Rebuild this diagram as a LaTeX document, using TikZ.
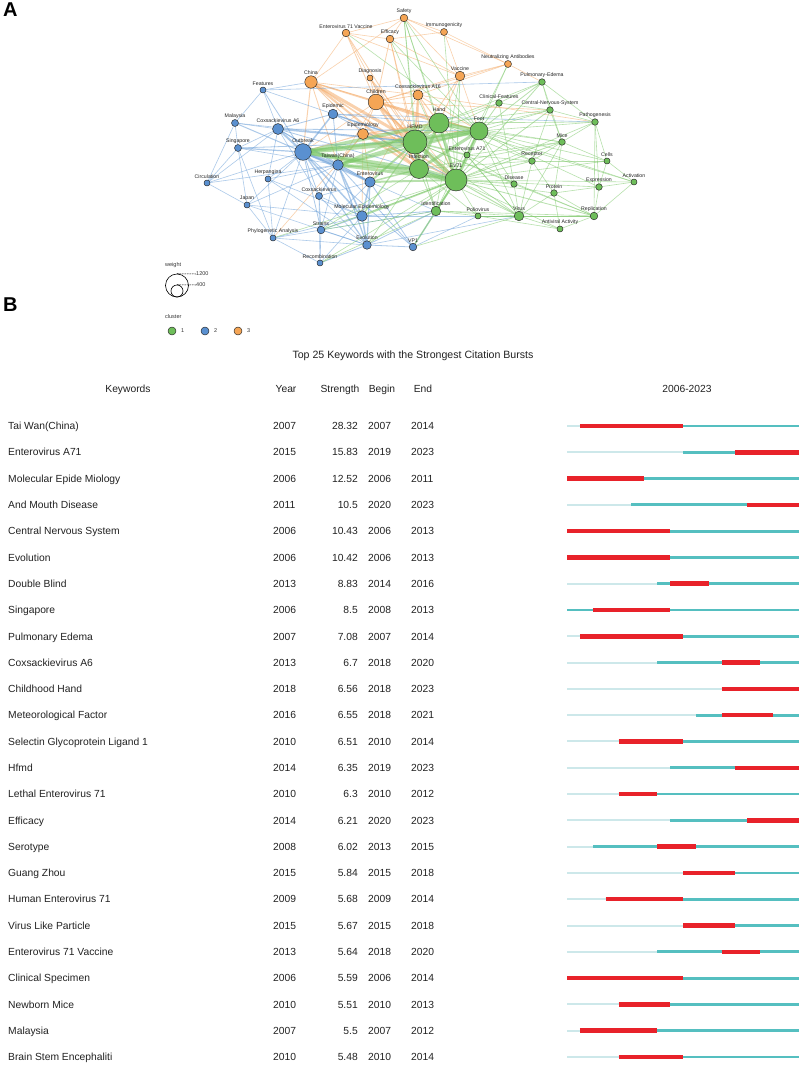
\documentclass[tikz,border=0pt]{standalone}
\usepackage{fontspec}
\setmainfont{Liberation Sans}
\pgfdeclarelayer{bottom}
\pgfdeclarelayer{background}
\pgfsetlayers{bottom,background,main}
\definecolor{cG}{HTML}{6EBE5A}
\definecolor{cB}{HTML}{5A90D0}
\definecolor{cO}{HTML}{F5A555}
\definecolor{eG}{HTML}{7CC868}
\definecolor{eB}{HTML}{6A9FD8}
\definecolor{eO}{HTML}{F5AC6A}
\definecolor{bRed}{HTML}{E8222A}
\definecolor{bTeal}{HTML}{55BFC0}
\definecolor{bLight}{HTML}{CDE8EA}
\definecolor{txt}{HTML}{222222}
\tikzset{
  nn/.style={circle, draw=black!85, line width=0.45pt, inner sep=0pt},
  nl/.style={font=\fontsize{5.2}{6}\selectfont, text=black!85, inner sep=0.6pt},
  ge/.style={draw=eG, opacity=0.55, line cap=round},
  be/.style={draw=eB, opacity=0.55, line cap=round},
  oe/.style={draw=eO, opacity=0.55, line cap=round},
  panel/.style={font=\fontsize{20}{22}\selectfont\bfseries, text=black, inner sep=0pt, anchor=north west},
  rowt/.style={font=\fontsize{10.3}{12}\selectfont, text=txt, inner sep=0pt, text height=7.4pt, text depth=0pt},
  lgt/.style={font=\fontsize{5.5}{6.5}\selectfont, text=black!80, inner sep=0pt, anchor=west},
  lightbar/.style={draw=bLight, line width=2pt},
  tealbar/.style={draw=bTeal, line width=2.8pt},
  redbar/.style={draw=bRed, line width=4.5pt},
}
\newcommand\nn[6]{\node[nn, fill=#5, minimum size=#4*2pt, label={[nl]above:#6}] (#1) at (#2,#3) {};}
\begin{document}
\begin{tikzpicture}[x=1pt,y=-1pt]
\useasboundingbox (0,0) rectangle (800,1071);
\begin{pgfonlayer}{bottom}
\fill[white] (0,0) rectangle (800,1071);
\end{pgfonlayer}

\node[panel] (pA) at (3,3) {A};
\node[panel] (pB) at (3,298) {B};

% ---------- network nodes ----------
% cluster 3 (orange)
\nn{saf}{404}{18}{3.8}{cO}{Safety}
\nn{ev71v}{346}{33}{3.8}{cO}{Enterovirus 71 Vaccine}
\nn{eff}{390}{39}{3.8}{cO}{Efficacy}
\nn{imm}{444}{32}{3.5}{cO}{Immunogenicity}
\nn{nab}{508}{64}{3.5}{cO}{Neutralizing Antibodies}
\nn{vac}{460}{76}{4.8}{cO}{Vaccine}
\nn{dia}{370}{78}{3}{cO}{Diagnosis}
\nn{chi}{311}{82}{6.2}{cO}{China}
\nn{chd}{376}{102}{7.8}{cO}{Children}
\nn{ca16}{418}{95}{5}{cO}{Coxsackievirus A16}
\nn{epi}{363}{134}{5.5}{cO}{Epidemiology}
% cluster 2 (blue)
\nn{feat}{263}{90}{3}{cB}{Features}
\nn{mal}{235}{123}{3.5}{cB}{Malaysia}
\nn{ca6}{278}{129}{5.5}{cB}{Coxsackievirus A6}
\nn{epid}{333}{114}{4.8}{cB}{Epidemic}
\nn{sing}{238}{148}{3.5}{cB}{Singapore}
\nn{out}{303}{152}{8.3}{cB}{Outbreak}
\nn{tw}{338}{165}{5.3}{cB}{Taiwan(China)}
\nn{herp}{268}{179}{3}{cB}{Herpangina}
\nn{circ}{207}{183}{3}{cB}{Circulation}
\nn{ent}{370}{182}{5.2}{cB}{Enterovirus}
\nn{cox}{319}{196}{3.5}{cB}{Coxsackievirus}
\nn{japan}{247}{205}{3}{cB}{Japan}
\nn{mol}{362}{216}{5.3}{cB}{Molecular Epidemiology}
\nn{str}{321}{230}{3.8}{cB}{Strains}
\nn{phy}{273}{238}{3}{cB}{Phylogenetic Analysis}
\nn{evo}{367}{245}{4.3}{cB}{Evolution}
\nn{vp1}{413}{247}{3.8}{cB}{VP1}
\nn{rcb}{320}{263}{3}{cB}{Recombination}
% cluster 1 (green)
\nn{hfmd}{415}{142}{12}{cG}{HFMD}
\nn{hand}{439}{123}{10}{cG}{Hand}
\nn{foot}{479}{131}{9}{cG}{Foot}
\nn{inf}{419}{169}{9.5}{cG}{Infection}
\nn{ev71}{456}{180}{11}{cG}{EV71}
\nn{ea71}{467}{155}{3}{cG}{Enterovirus A71}
\nn{cf}{499}{103}{3.3}{cG}{Clinical-Features}
\nn{pe}{542}{82}{3.3}{cG}{Pulmonary-Edema}
\nn{cns}{550}{110}{3.3}{cG}{Central-Nervous-System}
\nn{path}{595}{122}{3.3}{cG}{Pathogenesis}
\nn{mice}{562}{142}{3.3}{cG}{Mice}
\nn{rec}{532}{161}{3.3}{cG}{Receptor}
\nn{cells}{607}{161}{3}{cG}{Cells}
\nn{dis}{514}{184}{3.2}{cG}{Disease}
\nn{prot}{554}{193}{3.3}{cG}{Protein}
\nn{exp}{599}{187}{3.3}{cG}{Expression}
\nn{act}{634}{182}{3}{cG}{Activation}
\nn{iden}{436}{211}{4.8}{cG}{Identification}
\nn{polio}{478}{216}{3}{cG}{Poliovirus}
\nn{virus}{519}{216}{4.8}{cG}{Virus}
\nn{rep}{594}{216}{3.8}{cG}{Replication}
\nn{av}{560}{229}{3}{cG}{Antiviral Activity}

% ---------- network edges ----------
\begin{pgfonlayer}{background}
\foreach \a/\b/\w in {
 chi/hfmd/3, chd/hfmd/3, chd/hand/2, chd/inf/2, chd/ev71/1.5, chi/inf/2, chi/ev71/1.5,
 epi/hfmd/2.5, epi/hand/1.5, epi/ev71/1.5, epi/inf/2, epi/out/1, chi/out/1, chd/out/0.6,
 chi/chd/1.5, chi/epi/0.8, chi/ca16/0.6, chd/ca16/0.8, ca16/hfmd/2, ca16/ev71/1, ca16/hand/1,
 vac/hfmd/0.8, vac/chd/0.6, vac/ev71v/0.6, vac/eff/0.6, vac/imm/0.6, vac/nab/0.6, vac/saf/0.6,
 eff/saf/0.6, eff/ev71v/0.6, eff/imm/0.6, eff/chd/0.8, eff/hfmd/0.8, ev71v/saf/0.6, ev71v/chi/0.6,
 ev71v/chd/0.8, ev71v/hfmd/0.8, saf/imm/0.6, saf/nab/0.6, saf/chi/0.6, imm/nab/0.6, nab/ca16/0.6,
 nab/pe/0.6, nab/chd/0.6, dia/hfmd/0.8, dia/chd/0.6, dia/ev71/0.6, chi/tw/0.8, epi/tw/1,
 epi/ent/0.8, epi/mol/0.6, chd/epi/0.8, ca16/ent/0.6, ca16/path/0.6, chd/foot/1.5, chi/foot/0.8,
 epi/foot/0.8, phy/epi/0.6, dia/inf/0.6, ev71v/inf/0.6, eff/inf/0.6, vac/foot/0.6, vac/hand/0.8,
 ca16/foot/0.8, ca16/inf/0.8, chd/tw/0.6, chd/cns/0.6}
  \draw[oe, line width=\w pt] (\a) -- (\b);
\foreach \a/\b/\w in {
 out/tw/3, out/ent/2, out/ca6/2, out/epid/1.5, out/sing/1.2, out/mal/1, out/feat/0.8,
 out/circ/0.6, out/herp/0.6, out/cox/0.8, out/japan/0.6, out/mol/1.5, out/str/0.8, out/phy/0.6,
 out/evo/1.2, out/vp1/0.8, tw/ent/2, tw/ca6/1, tw/epid/0.8, tw/mol/1.5, tw/evo/1.2, tw/cox/0.8,
 tw/str/0.6, tw/vp1/0.8, ent/mol/1.5, ent/evo/1.2, ent/str/0.6, ent/cox/0.6, ent/vp1/0.8,
 mol/evo/1.5, mol/str/0.8, mol/phy/0.6, mol/rcb/0.6, evo/rcb/0.8, evo/str/0.8, evo/phy/0.6,
 evo/vp1/0.8, str/phy/0.6, str/rcb/0.6, phy/rcb/0.6, phy/japan/0.6, phy/herp/0.6, sing/mal/0.6,
 sing/ca6/0.6, sing/circ/0.6, sing/japan/0.6, sing/phy/0.6, mal/feat/0.6, mal/ca6/0.6, mal/circ/0.6,
 feat/ca6/0.6, feat/hfmd/0.6, feat/pe/0.6, circ/japan/0.6, circ/ca6/0.6, herp/tw/0.6, herp/ca6/0.6,
 herp/evo/0.6, ca6/epid/0.8, ca6/hfmd/1.5, ca6/cox/0.6, epid/hfmd/1.5, epid/hand/0.8, epid/ev71/0.8,
 cox/mol/0.6, cox/evo/0.6, cox/str/0.6, cox/rcb/0.6, japan/evo/0.6, japan/mol/0.6, evo/iden/0.8,
 vp1/iden/0.8, mol/iden/0.8, str/iden/0.6, ent/iden/0.6, vp1/polio/0.6, evo/virus/0.6, mol/virus/0.6,
 epid/path/0.6, sing/hfmd/0.8, mal/hfmd/0.6, ca6/foot/0.8, feat/chi/0.6, herp/mol/0.6, ent/ca6/0.6,
 sing/tw/0.6, ca6/ev71/0.8, circ/tw/0.6, japan/tw/0.6}
  \draw[be, line width=\w pt] (\a) -- (\b);
\foreach \a/\b/\w in {
 hfmd/hand/5, hfmd/foot/5, hand/foot/4, hfmd/inf/4.5, hfmd/ev71/4, inf/ev71/4, hand/ev71/3,
 foot/ev71/3.5, hand/inf/3, foot/inf/3, out/hfmd/4.5, out/hand/3.5, out/foot/3, out/ev71/3.5,
 out/inf/3.5, tw/hfmd/3, tw/inf/2.5, tw/ev71/3, tw/hand/2, tw/foot/2, ent/hfmd/2, ent/ev71/2,
 ent/inf/1.5, mol/ev71/1.5, mol/hfmd/1.2, ev71/iden/2, ev71/vp1/1.5, hfmd/ea71/1.5, foot/ea71/1,
 ev71/ea71/1,
 iden/inf/0.8, hfmd/cf/0.6, hand/cf/0.6, foot/cf/0.8, foot/pe/0.8, hand/pe/0.6, ev71/pe/0.8,
 ev71/cns/0.8, hfmd/cns/0.6, foot/path/0.6, ev71/path/0.6, ev71/mice/0.8, ev71/rec/0.8,
 ev71/cells/0.6, ev71/dis/0.6, ev71/prot/0.6, ev71/exp/0.6, ev71/act/0.6, ev71/rep/0.8,
 ev71/virus/1, ev71/av/0.6, ev71/polio/0.6, inf/virus/0.6, inf/rec/0.6, inf/mice/0.6,
 ea71/virus/0.6, ea71/rec/0.6, virus/rep/0.6, virus/prot/0.6, virus/av/0.6, virus/mice/0.6,
 virus/rec/0.6, virus/polio/0.6, rec/mice/0.6, rec/cells/0.6, exp/act/0.6, exp/cells/0.6,
 exp/rep/0.6, prot/exp/0.6, prot/rep/0.6, prot/rec/0.6, act/rep/0.6, act/cells/0.6, path/mice/0.6,
 path/cns/0.6, path/cells/0.6, path/exp/0.6, path/rep/0.6, mice/prot/0.6, mice/cns/0.6, cns/pe/0.6,
 pe/cf/0.6, pe/mice/0.6, cf/cns/0.6, dis/virus/0.6, dis/rep/0.6, polio/iden/0.6, iden/virus/0.6,
 iden/rep/0.6, polio/rep/0.6, av/rep/0.6, av/polio/0.6, saf/hfmd/0.6, saf/ev71/0.6, saf/foot/0.6,
 saf/hand/0.6, saf/inf/0.6, imm/ev71/0.6, vac/ev71/0.8, vac/iden/0.6, nab/ev71/0.6, nab/iden/0.6,
 ev71v/foot/0.6, eff/ev71/0.6, eff/foot/0.6, hand/act/0.6, foot/exp/0.6, foot/cells/0.6,
 hfmd/dis/0.6, foot/dis/0.6, hand/mice/0.6, hand/path/0.6, foot/rec/0.6, ev71/str/0.8,
 ev71/rcb/0.6, ev71/phy/0.6, inf/str/0.6, iden/rcb/0.6, hfmd/virus/0.6, hand/virus/0.6,
 foot/virus/0.6, inf/polio/0.6, hfmd/rep/0.6, cf/dis/0.6, pe/path/0.6, cns/rec/0.6, mice/cells/0.6,
 av/prot/0.6, hfmd/iden/0.8, vp1/virus/0.6, ev71/evo/0.8, inf/evo/0.6, iden/str/0.6, ea71/mice/0.6,
 ea71/dis/0.6, foot/mice/0.6, hand/cns/0.6, foot/cns/0.6, hand/rec/0.6, foot/act/0.6}
  \draw[ge, line width=\w pt] (\a) -- (\b);
\end{pgfonlayer}

% ---------- legend ----------
\node[lgt] (lw) at (165,265) {weight};
\node[circle, draw=black, line width=0.6pt, minimum size=23pt, inner sep=0pt] (lbig) at (177,285.5) {};
\node[circle, draw=black, line width=0.6pt, minimum size=12pt, inner sep=0pt] (lsmall) at (177,291) {};
\node[lgt] (l1200) at (196,274) {1200};
\node[lgt] (l400) at (196,285) {400};
\draw[dashed, line width=0.5pt, dash pattern=on 1.5pt off 1pt] (lbig.north) -- (l1200.west);
\draw[dashed, line width=0.5pt, dash pattern=on 1.5pt off 1pt] (lsmall.north) -- (l400.west);
\node[lgt] (lc) at (165,317) {cluster};
\node[nn, fill=cG, minimum size=8pt] (lg1) at (172,331) {};
\node[lgt] (lt1) at (181,331) {1};
\node[nn, fill=cB, minimum size=8pt] (lg2) at (205,331) {};
\node[lgt] (lt2) at (214,331) {2};
\node[nn, fill=cO, minimum size=8pt] (lg3) at (238,331) {};
\node[lgt] (lt3) at (247,331) {3};

% ---------- panel B ----------
\node[rowt, font=\fontsize{10.6}{12}\selectfont] (title) at (413,355) {Top 25 Keywords with the Strongest Citation Bursts};
\node[rowt] (hk) at (128,389) {Keywords};
\node[rowt] (hy) at (286,389) {Year};
\node[rowt] (hs) at (340,389) {Strength};
\node[rowt] (hb) at (382,389) {Begin};
\node[rowt] (he) at (423,389) {End};
\node[rowt] (hr) at (687,389) {2006-2023};

\foreach [count=\i from 0] \kw/\yr/\st/\bg/\en in {
 Tai Wan(China)/2007/28.32/2007/2014,
 Enterovirus A71/2015/15.83/2019/2023,
 Molecular Epide Miology/2006/12.52/2006/2011,
 And Mouth Disease/2011/10.5/2020/2023,
 Central Nervous System/2006/10.43/2006/2013,
 Evolution/2006/10.42/2006/2013,
 Double Blind/2013/8.83/2014/2016,
 Singapore/2006/8.5/2008/2013,
 Pulmonary Edema/2007/7.08/2007/2014,
 Coxsackievirus A6/2013/6.7/2018/2020,
 Childhood Hand/2018/6.56/2018/2023,
 Meteorological Factor/2016/6.55/2018/2021,
 Selectin Glycoprotein Ligand 1/2010/6.51/2010/2014,
 Hfmd/2014/6.35/2019/2023,
 Lethal Enterovirus 71/2010/6.3/2010/2012,
 Efficacy/2014/6.21/2020/2023,
 Serotype/2008/6.02/2013/2015,
 Guang Zhou/2015/5.84/2015/2018,
 Human Enterovirus 71/2009/5.68/2009/2014,
 Virus Like Particle/2015/5.67/2015/2018,
 Enterovirus 71 Vaccine/2013/5.64/2018/2020,
 Clinical Specimen/2006/5.59/2006/2014,
 Newborn Mice/2010/5.51/2010/2013,
 Malaysia/2007/5.5/2007/2012,
 Brain Stem Encephaliti/2010/5.48/2010/2014}
{
  \pgfmathsetmacro\yy{426+\i*26.29}
  \pgfmathsetmacro\xa{567+(\yr-2006)*12.889}
  \pgfmathsetmacro\xb{567+(\bg-2006)*12.889}
  \pgfmathsetmacro\xc{567+(\en-2005)*12.889}
  \node[rowt, anchor=west] (k\i) at (8,\yy) {\kw};
  \node[rowt, anchor=west] (y\i) at (273,\yy) {\yr};
  \node[rowt, anchor=east] (s\i) at (358,\yy) {\st};
  \node[rowt, anchor=west] (b\i) at (368,\yy) {\bg};
  \node[rowt, anchor=west] (e\i) at (411,\yy) {\en};
  \draw[lightbar] (567,\yy) -- (\xa,\yy);
  \draw[tealbar] (\xa,\yy) -- (799,\yy);
  \draw[redbar] (\xb,\yy) -- (\xc,\yy);
}
\end{tikzpicture}
\end{document}
